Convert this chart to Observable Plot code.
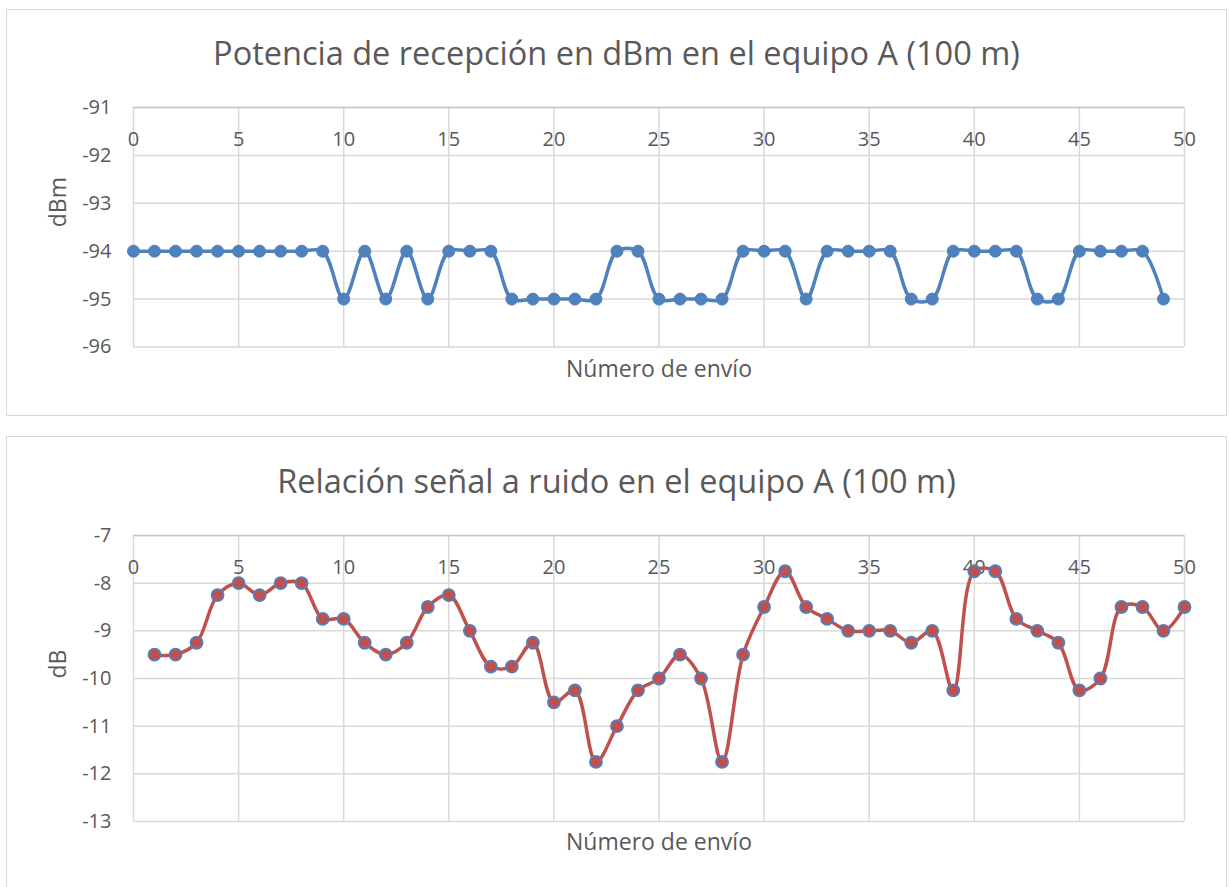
<!DOCTYPE html>
<html>
<head>
<meta charset="utf-8">
<script src="https://cdn.jsdelivr.net/npm/d3@7"></script>
<script src="https://cdn.jsdelivr.net/npm/@observablehq/plot@0.6"></script>
<style>
  body { margin: 0; background: #fff; font-family: "Open Sans", sans-serif; }
  .box { position: absolute; left: 6px; width: 1219px; border: 1.5px solid #d9d9d9; background: #fff; overflow: hidden; }
  .title { display: flex; align-items: center; justify-content: center; font-size: 32.5px; color: #595959; }
  svg { display: block; }
</style>
</head>
<body>
<div class="box" id="box1" style="top:9px; height:405px;">
  <div class="title" style="height:84px;">Potencia de recepción en dBm en el equipo A (100 m)</div>
  <div id="c1"></div>
</div>
<div class="box" id="box2" style="top:436px; height:460px;">
  <div class="title" style="height:86px;">Relación señal a ruido en el equipo A (100 m)</div>
  <div id="c2"></div>
</div>
<script>
// Chart 1: received power (dBm), sends 0..49
const envio1 = d3.range(0, 50);
const potencia = [
  -94, -94, -94, -94, -94, -94, -94, -94, -94, -94,
  -95, -94, -95, -94, -95, -94, -94, -94, -95, -95,
  -95, -95, -95, -94, -94, -95, -95, -95, -95, -94,
  -94, -94, -95, -94, -94, -94, -94, -95, -95, -94,
  -94, -94, -94, -95, -95, -94, -94, -94, -94, -95
];
// Chart 2: SNR (dB), sends 1..50
const envio2 = d3.range(1, 51);
const snr = [
  -9.5, -9.5, -9.25, -8.25, -8, -8.25, -8, -8, -8.75, -8.75,
  -9.25, -9.5, -9.25, -8.5, -8.25, -9, -9.75, -9.75, -9.25, -10.5,
  -10.25, -11.75, -11, -10.25, -10, -9.5, -10, -11.75, -9.5, -8.5,
  -7.75, -8.5, -8.75, -9, -9, -9, -9.25, -9, -10.25, -7.75,
  -7.75, -8.75, -9, -9.25, -10.25, -10, -8.5, -8.5, -9, -8.5
];
const xTicks = d3.range(0, 51, 5);
const yTicks1 = d3.range(-96, -90, 1);
const yTicks2 = d3.range(-13, -6, 1);
const xLabel = "Número de envío";

const data1 = envio1.map((x, i) => ({x, y: potencia[i]}));
const data2 = envio2.map((x, i) => ({x, y: snr[i]}));

function chart(data, yDomain, yTicks, yLabel, color, dotStroke, r, sw, height, mb, mt, labelDy) {
  return Plot.plot({
    width: 1219,
    height,
    marginLeft: 126,
    marginRight: 42,
    marginTop: mt,
    marginBottom: mb,
    style: {fontFamily: "Open Sans, sans-serif", fontSize: "20px", color: "#595959", background: "#fff", overflow: "visible"},
    x: {domain: [0, 50], axis: null},
    y: {domain: yDomain, axis: null},
    marks: [
      Plot.gridX(xTicks, {stroke: "#d9d9d9", strokeOpacity: 1, strokeWidth: 1.5}),
      Plot.gridY(yTicks, {stroke: "#d9d9d9", strokeOpacity: 1, strokeWidth: 1.5}),
      Plot.ruleY([yDomain[1]], {stroke: "#c6c6c6", strokeWidth: 1.5}),
      Plot.text(yTicks, {y: d => d, text: d => String(d), frameAnchor: "left", textAnchor: "end", dx: -22, fontSize: 20, fill: "#595959"}),
      Plot.text([yLabel], {text: d => d, frameAnchor: "left", rotate: -90, dx: -75, fontSize: 23, fill: "#595959"}),
      Plot.text(xTicks, {x: d => d, text: d => String(d), frameAnchor: "top", lineAnchor: "middle", dy: 32, fontSize: 20, fill: "#595959"}),
      Plot.text([xLabel], {text: d => d, frameAnchor: "bottom", lineAnchor: "middle", dy: labelDy, fontSize: 23, fill: "#595959"}),
      Plot.line(data, {x: "x", y: "y", stroke: color, strokeWidth: 3.5, curve: "catmull-rom"}),
      Plot.dot(data, {x: "x", y: "y", r, fill: color, stroke: dotStroke, strokeWidth: sw})
    ]
  });
}

document.getElementById("c1").append(chart(data1, [-96, -91], yTicks1, "dBm", "#4f81bd", "#4f81bd", 6, 1, 320, 67.5, 13, 23));
document.getElementById("c2").append(chart(data2, [-13, -7], yTicks2, "dB", "#c0504d", "#4f81bd", 6, 1.8, 367, 69, 12, 21));
</script>
</body>
</html>
